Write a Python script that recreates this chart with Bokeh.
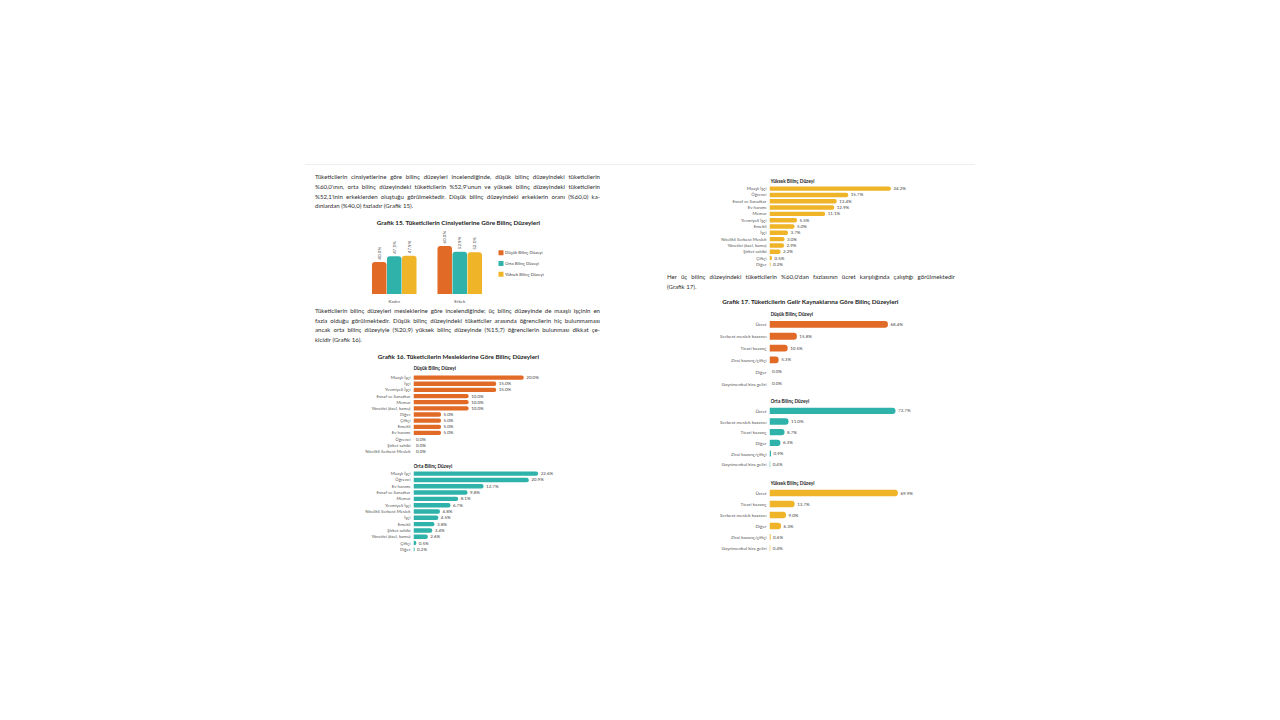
import math
from bokeh.plotting import figure
from bokeh.layouts import column, row
from bokeh.models import Div, Spacer, FactorRange, Range1d, ColumnDataSource
from bokeh.transform import dodge
from bokeh.core.properties import value
from bokeh.embed import file_html
from bokeh.resources import INLINE

ORANGE = "#E16A26"
TEAL = "#2FB2AA"
YELLOW = "#F0B428"
FONT = "Lato"

# ---------------- data ----------------
# Grafik 15
genders = ["Kadın", "Erkek"]
g15_dusuk = [40.0, 60.0]
g15_orta = [47.1, 52.9]
g15_yuksek = [47.9, 52.1]
g15_series = ["Düşük Bilinç Düzeyi", "Orta Bilinç Düzeyi", "Yüksek Bilinç Düzeyi"]
g15_colors = [ORANGE, TEAL, YELLOW]

# Grafik 16
occ_dusuk = ["Maaşlı İşçi", "İşçi", "Yevmiyeli İşçi", "Esnaf ve Sanatkar", "Memur",
             "Yönetici (özel, kamu)", "Diğer", "Çiftçi", "Emekli", "Ev hanımı",
             "Öğrenci", "Şirket sahibi", "Nitelikli Serbest Meslek"]
val_occ_dusuk = [20.0, 15.0, 15.0, 10.0, 10.0, 10.0, 5.0, 5.0, 5.0, 5.0, 0.0, 0.0, 0.0]

occ_orta = ["Maaşlı İşçi", "Öğrenci", "Ev hanımı", "Esnaf ve Sanatkar", "Memur",
            "Yevmiyeli İşçi", "Nitelikli Serbest Meslek", "İşçi", "Emekli",
            "Şirket sahibi", "Yönetici (özel, kamu)", "Çiftçi", "Diğer"]
val_occ_orta = [22.6, 20.9, 12.7, 9.8, 8.1, 6.7, 4.8, 4.5, 3.8, 3.4, 2.6, 0.5, 0.2]

occ_yuksek = ["Maaşlı İşçi", "Öğrenci", "Esnaf ve Sanatkar", "Ev hanımı", "Memur",
              "Yevmiyeli İşçi", "Emekli", "İşçi", "Nitelikli Serbest Meslek",
              "Yönetici (özel, kamu)", "Şirket sahibi", "Çiftçi", "Diğer"]
val_occ_yuksek = [24.2, 15.7, 13.4, 12.9, 11.1, 5.5, 5.0, 3.7, 3.0, 2.9, 2.2, 0.5, 0.2]

# Grafik 17
inc_dusuk = ["Ücret", "Serbest meslek kazancı", "Ticari kazanç", "Zirai kazanç/çiftçi",
             "Diğer", "Gayrimenkul kira geliri"]
val_inc_dusuk = [68.4, 15.8, 10.5, 5.3, 0.0, 0.0]

inc_orta = ["Ücret", "Serbest meslek kazancı", "Ticari kazanç", "Diğer",
            "Zirai kazanç/çiftçi", "Gayrimenkul kira geliri"]
val_inc_orta = [72.7, 11.0, 8.7, 6.3, 0.9, 0.4]

inc_yuksek = ["Ücret", "Ticari kazanç", "Serbest meslek kazancı", "Diğer",
              "Zirai kazanç/çiftçi", "Gayrimenkul kira geliri"]
val_inc_yuksek = [69.9, 13.7, 9.0, 6.3, 0.6, 0.4]

# texts
p1_lines = [
    "Tüketicilerin cinsiyetlerine göre bilinç düzeyleri incelendiğinde, düşük bilinç düzeyindeki tüketicilerin",
    "%60,0'ının, orta bilinç düzeyindeki tüketicilerin %52,9'unun ve yüksek bilinç düzeyindeki tüketicilerin",
    "%52,1'inin erkeklerden oluştuğu görülmektedir. Düşük bilinç düzeyindeki erkeklerin oranı (%60,0) ka-",
    "dınlardan (%40,0) fazladır (Grafik 15).",
]
p2_lines = [
    "Tüketicilerin bilinç düzeyleri mesleklerine göre incelendiğinde; üç bilinç düzeyinde de maaşlı işçinin en",
    "fazla olduğu görülmektedir. Düşük bilinç düzeyindeki tüketiciler arasında öğrencilerin hiç bulunmaması",
    "ancak orta bilinç düzeyiyle (%20,9) yüksek bilinç düzeyinde (%15,7) öğrencilerin bulunması dikkat çe-",
    "kicidir (Grafik 16).",
]
p3_lines = [
    "Her üç bilinç düzeyindeki tüketicilerin %60,0'dan fazlasının ücret karşılığında çalıştığı görülmektedir",
    "(Grafik 17).",
]
title15 = "Grafik 15. Tüketicilerin Cinsiyetlerine Göre Bilinç Düzeyleri"
title16 = "Grafik 16. Tüketicilerin Mesleklerine Göre Bilinç Düzeyleri"
title17 = "Grafik 17. Tüketicilerin Gelir Kaynaklarına Göre Bilinç Düzeyleri"
sub_dusuk = "Düşük Bilinç Düzeyi"
sub_orta = "Orta Bilinç Düzeyi"
sub_yuksek = "Yüksek Bilinç Düzeyi"


# ---------------- helpers ----------------
def hs(w):
    return Spacer(width=w, height=1)


def vs(h, w=1):
    return Spacer(width=w, height=h)


def bare_fig(**kw):
    p = figure(title=None, min_border=0, min_border_left=kw.pop("min_border_left", 0),
               toolbar_location=None, output_backend="svg", outline_line_color=None,
               background_fill_alpha=0, border_fill_alpha=0, **kw)
    p.grid.visible = False
    return p


def para(lines, width, lh, fs):
    inner = ""
    for i, ln in enumerate(lines):
        al = "left" if i == len(lines) - 1 else "justify"
        inner += ('<div style="text-align:' + al + ';text-align-last:' + al +
                  ';white-space:nowrap;">' + ln + '</div>')
    html = ('<div style="font-family:Lato;font-size:' + str(fs) + 'px;line-height:' + str(lh) +
            'px;color:#2e2e2e;width:' + str(width) + 'px;">' + inner + '</div>')
    return Div(text=html, width=width, height=int(round(lh * len(lines))), margin=(0, 0, 0, 0))


def text_fig(t, w, h, fs, align="center"):
    p = bare_fig(width=w, height=h, x_range=Range1d(0, w), y_range=Range1d(h, 0),
                 x_axis_location=None, y_axis_location=None)
    x = w / 2 if align == "center" else 0
    p.text(x=[x], y=[h / 2 - 2], text=[t], text_align=align, text_baseline="middle",
           text_font=value(FONT), text_font_style="bold", text_font_size=f"{fs}px",
           text_color="#222")
    return p


def hbar_fig(cats, vals, color, frame_h, frame_w, xmax, radius, label_fs, bar_h):
    p = bare_fig(y_range=FactorRange(factors=list(reversed(cats))), x_range=Range1d(0, xmax),
                 width=100 + frame_w, height=frame_h, min_border_left=100,
                 x_axis_location=None)
    src = ColumnDataSource(dict(cat=cats, val=vals, lab=[f"{v:.1f}%" for v in vals]))
    p.hbar(y="cat", left=0, right="val", height=bar_h, fill_color=color, line_color=None,
           source=src, border_radius=radius)
    p.text(x="val", y="cat", text="lab", x_offset=2.5, text_align="left", text_baseline="middle",
           text_font=value(FONT), text_font_size="4.5px", text_color="#444", source=src)
    ax = p.yaxis[0]
    ax.axis_line_color = None
    ax.major_tick_line_color = None
    ax.minor_tick_line_color = None
    ax.major_tick_out = 0
    ax.major_tick_in = 0
    ax.major_label_standoff = 3
    ax.major_label_text_font = FONT
    ax.major_label_text_font_size = label_fs
    ax.major_label_text_color = "#555"
    return p


# ---------------- Grafik 15 ----------------
p15 = bare_fig(x_range=FactorRange(factors=genders), y_range=Range1d(-14.375, 83.125),
               width=131, height=78, x_axis_location=None, y_axis_location=None)
src15 = ColumnDataSource(dict(g=genders, d=g15_dusuk, o=g15_orta, y=g15_yuksek,
                              dl=[f"{v:.1f}%" for v in g15_dusuk],
                              ol=[f"{v:.1f}%" for v in g15_orta],
                              yl=[f"{v:.1f}%" for v in g15_yuksek]))
for col, lab, off, colr in [("d", "dl", -0.229, ORANGE), ("o", "ol", 0.0, TEAL), ("y", "yl", 0.229, YELLOW)]:
    p15.vbar(x=dodge("g", off, range=p15.x_range), top=col, bottom=0, width=0.222,
             fill_color=colr, line_color=None, source=src15, border_radius=(3, 3, 0, 0))
    p15.text(x=dodge("g", off, range=p15.x_range), y=col, text=lab, angle=math.pi / 2,
             y_offset=-2.5, text_align="left", text_baseline="middle",
             text_font=value(FONT), text_font_size="4.5px", text_color="#444", source=src15)
p15.text(x="g", y=0, text="g", y_offset=7.5, text_align="center", text_baseline="middle",
         text_font=value(FONT), text_font_size="4.5px", text_color="#555", source=src15)

# legend of Grafik 15 (series names drawn on a small categorical figure)
leg = bare_fig(x_range=Range1d(0, 60), y_range=FactorRange(factors=list(reversed(g15_series))),
               width=60, height=32, x_axis_location=None, y_axis_location=None)
src_leg = ColumnDataSource(dict(s=g15_series, c=g15_colors))
leg.rect(x=8.5, y="s", width=5, height=5, width_units="screen", height_units="screen",
         fill_color="c", line_color=None, source=src_leg)
leg.text(x=12.5, y="s", text="s", text_align="left", text_baseline="middle",
         text_font=value(FONT), text_font_size="4.3px", text_color="#444", source=src_leg)

# ---------------- Grafik 16 / 17 figures ----------------
p16a = hbar_fig(occ_dusuk, val_occ_dusuk, ORANGE, 80, 150, 27.2, (0, 2, 2, 0), "4.4px", 0.7)
p16b = hbar_fig(occ_orta, val_occ_orta, TEAL, 82, 150, 27.2, (0, 2, 2, 0), "4.4px", 0.7)
p16c = hbar_fig(occ_yuksek, val_occ_yuksek, YELLOW, 82, 150, 29.9, (0, 2, 2, 0), "4.4px", 0.7)
p17a = hbar_fig(inc_dusuk, val_inc_dusuk, ORANGE, 71, 160, 92.4, (0, 3, 3, 0), "4.6px", 0.58)
p17b = hbar_fig(inc_orta, val_inc_orta, TEAL, 64, 160, 92.3, (0, 3, 3, 0), "4.6px", 0.6)
p17c = hbar_fig(inc_yuksek, val_inc_yuksek, YELLOW, 66, 160, 87.1, (0, 3, 3, 0), "4.6px", 0.6)

# ---------------- layout ----------------
PFS = 6.1
left_col = column(
    Spacer(width=310, height=7),                       # 165-172
    row(hs(10), para(p1_lines, 285, 9.8, PFS)),         # 172-211
    vs(6),                                              # 211-217
    text_fig(title15, 306, 10, 6.3),                    # 217-227
    row(hs(56), p15, column(vs(20), leg)),              # 227-305
    vs(1),                                              # 305-306
    row(hs(10), para(p2_lines, 285, 9.6, PFS)),         # 306-344
    vs(7),                                              # 344-351
    text_fig(title16, 306, 10, 6.3),                    # 351-361
    vs(1),                                              # 361-362
    row(hs(108), text_fig(sub_dusuk, 100, 10, 4.8, "left")),  # 362-372
    vs(2),                                              # 372-374
    row(hs(8), p16a),                                   # 374-454
    vs(6),                                              # 454-460
    row(hs(108), text_fig(sub_orta, 100, 10, 4.8, "left")),   # 460-470
    row(hs(8), p16b),                                   # 470-552
    width=310,
)

right_col = column(
    Spacer(width=300, height=10),                       # 165-175
    row(hs(110), text_fig(sub_yuksek, 100, 10, 4.8, "left")),  # 175-185
    row(hs(9), p16c),                                   # 185-267
    vs(5),                                              # 267-272
    row(hs(7), para(p3_lines, 288, 9.5, PFS)),          # 272-291
    vs(5),                                              # 291-296
    text_fig(title17, 302, 10, 6.3),                    # 296-306
    vs(2),                                              # 306-308
    row(hs(110), text_fig(sub_dusuk, 100, 10, 4.8, "left")),  # 308-318
    row(hs(9), p17a),                                   # 318-389
    vs(6),                                              # 389-395
    row(hs(110), text_fig(sub_orta, 100, 10, 4.8, "left")),   # 395-405
    row(hs(9), p17b),                                   # 405-469
    vs(8),                                              # 469-477
    row(hs(110), text_fig(sub_yuksek, 100, 10, 4.8, "left")), # 477-487
    row(hs(9), p17c),                                   # 487-553
    width=300,
)

hr = Div(text="", width=670, height=1, margin=(0, 0, 0, 0), styles={"background-color": "#eeeeee"})

root = column(
    vs(164),
    row(hs(305), hr),
    row(hs(305), left_col, hs(45), right_col),
)

open("out.html", "w").write(file_html(root, INLINE))
